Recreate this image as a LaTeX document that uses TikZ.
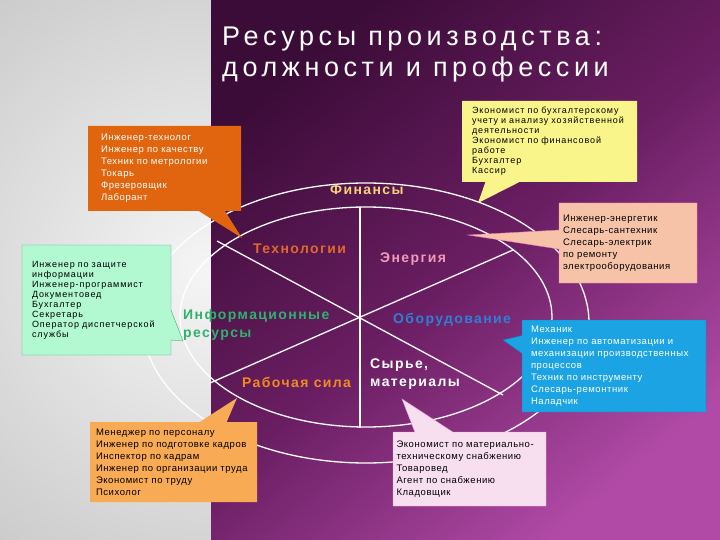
\documentclass[tikz,border=0pt]{standalone}
\usepackage{fontspec}
\setmainfont[LetterSpace=10]{Liberation Sans}
\newfontfamily\titlefont[LetterSpace=17]{Liberation Sans}
\newfontfamily\boxfont[LetterSpace=6]{Liberation Sans}
\usetikzlibrary{shapes.callouts}
\definecolor{plumtop}{HTML}{3C0C38}
\definecolor{plummid}{HTML}{6A1E62}
\definecolor{plumbot}{HTML}{B04AA6}
\definecolor{techfill}{HTML}{E1650F}
\definecolor{finfill}{HTML}{FAF58A}
\definecolor{enfill}{HTML}{F6C3A8}
\definecolor{enline}{HTML}{F07CB8}
\definecolor{infofill}{HTML}{B2F8D0}
\definecolor{infoline}{HTML}{4FA878}
\definecolor{eqfill}{HTML}{1BA3E3}
\definecolor{eqline}{HTML}{1078B8}
\definecolor{labfill}{HTML}{F9AA55}
\definecolor{supfill}{HTML}{F8DFF0}
\definecolor{supline}{HTML}{E59AD0}
\definecolor{fincol}{HTML}{F5D278}
\definecolor{techcol}{HTML}{E2672D}
\definecolor{encol}{HTML}{F29AB8}
\definecolor{infocol}{HTML}{2DB36E}
\definecolor{eqcol}{HTML}{2E7FD6}
\definecolor{labcol}{HTML}{F28A22}
\begin{document}
\begin{tikzpicture}[x=1pt,y=-1pt,
	ring/.style={white,line width=1.3pt},
	callbox/.style={rectangle callout,inner sep=0pt,align=left,font=\boxfont\fontsize{9.5}{12}\selectfont},
	res/.style={font=\fontsize{14}{18}\selectfont\bfseries,inner sep=0pt,align=left}]
	\useasboundingbox (0,0) rectangle (720,540);
	\begin{scope}
		\clip (0,0) rectangle (211,540);
		\fill[gray!42] (0,0) rectangle (211,540);
		\shade[inner color=gray!8,outer color=gray!42] (205,270) circle (360pt);
	\end{scope}
	\shade[top color=plumtop,bottom color=plumbot,middle color=plummid,shading angle=40] (211,0) rectangle (720,540);
	\node[anchor=north west,inner sep=0pt,align=left,text=white,font=\titlefont\fontsize{27}{31}\selectfont] (title) at (222,27) {Ресурсы производства:\\должности и профессии};
	\draw[ring] (366,323) ellipse [x radius=223pt,y radius=140pt];
	\draw[ring] (366,317) ellipse [x radius=186pt,y radius=110pt];
	\draw[ring] (360,207) -- (360,428);
	\draw[ring] (217,241) -- (503,395);
	\draw[ring] (513,250) -- (210,383);
	\node[res,anchor=base west,text=fincol] (fin) at (330,195) {Финансы};
	\node[res,anchor=base west,text=techcol] (tech) at (253,253) {Технологии};
	\node[res,anchor=base west,text=encol] (en) at (380,262) {Энергия};
	\node[res,anchor=north west,text=infocol] (info) at (183,309) {Информационные\\ресурсы};
	\node[res,anchor=base west,text=eqcol] (eq) at (393,323) {Оборудование};
	\node[res,anchor=base west,text=labcol] (lab) at (242,387) {Рабочая сила};
	\node[res,anchor=north west,text=white] (sup) at (370,359) {Сырье,\\материалы};
	\coordinate (techtip) at (242,238);
	\coordinate (fintip) at (478,203);
	\coordinate (entip) at (468,235);
	\coordinate (infotip) at (183,341);
	\coordinate (eqtip) at (503,340);
	\coordinate (labtip) at (237,398);
	\coordinate (suptip) at (402,399);
	\node[callbox,fill=techfill,text=white,minimum width=153pt,minimum height=85pt,text width=127pt,
		callout absolute pointer=(techtip),callout pointer width=26pt] (techbox) at (164.5,168.5)
		{Инженер-технолог\\Инженер по качеству\\Техник по метрологии\\Токарь\\Фрезеровщик\\Лаборант};
	\node[callbox,fill=finfill,font=\rmfamily\fontsize{9}{10}\selectfont,minimum width=175pt,minimum height=81pt,text width=155pt,
		callout absolute pointer=(fintip),callout pointer width=34pt] (finbox) at (549.5,141.5)
		{Экономист по бухгалтерскому\\учету и анализу хозяйственной\\деятельности\\Экономист по финансовой\\работе\\Бухгалтер\\Кассир};
	\node[callbox,fill=enfill,draw=enline,minimum width=138pt,minimum height=80pt,text width=130pt,
		callout absolute pointer=(entip),callout pointer width=19pt] (enbox) at (628,243)
		{Инженер-энергетик\\Слесарь-сантехник\\Слесарь-электрик\\по ремонту\\электрооборудования};
	\node[callbox,fill=infofill,draw=infoline,font=\rmfamily\fontsize{9}{10}\selectfont,minimum width=149pt,minimum height=110pt,text width=129pt,
		callout absolute pointer=(infotip),callout pointer width=30pt] (infobox) at (96.5,300)
		{Инженер по защите\\информации\\Инженер-программист\\Документовед\\Бухгалтер\\Секретарь\\Оператор диспетчерской\\службы};
	\node[callbox,fill=eqfill,draw=eqline,text=white,minimum width=184pt,minimum height=92pt,text width=166pt,
		callout absolute pointer=(eqtip),callout pointer width=18pt] (eqbox) at (614,366)
		{Механик\\Инженер по автоматизации и\\механизации производственных\\процессов\\Техник по инструменту\\Слесарь-ремонтник\\Наладчик};
	\node[callbox,fill=labfill,minimum width=167pt,minimum height=80pt,text width=155pt,
		callout absolute pointer=(labtip),callout pointer width=27pt] (labbox) at (173.5,462)
		{Менеджер по персоналу\\Инженер по подготовке кадров\\Инспектор по кадрам\\Инженер по организации труда\\Экономист по труду\\Психолог};
	\node[callbox,fill=supfill,draw=supline,minimum width=153pt,minimum height=74pt,text width=146pt,
		callout absolute pointer=(suptip),callout pointer width=38pt] (supbox) at (469.5,469)
		{Экономист по материально-\\техническому снабжению\\Товаровед\\Агент по снабжению\\Кладовщик};
\end{tikzpicture}
\end{document}
